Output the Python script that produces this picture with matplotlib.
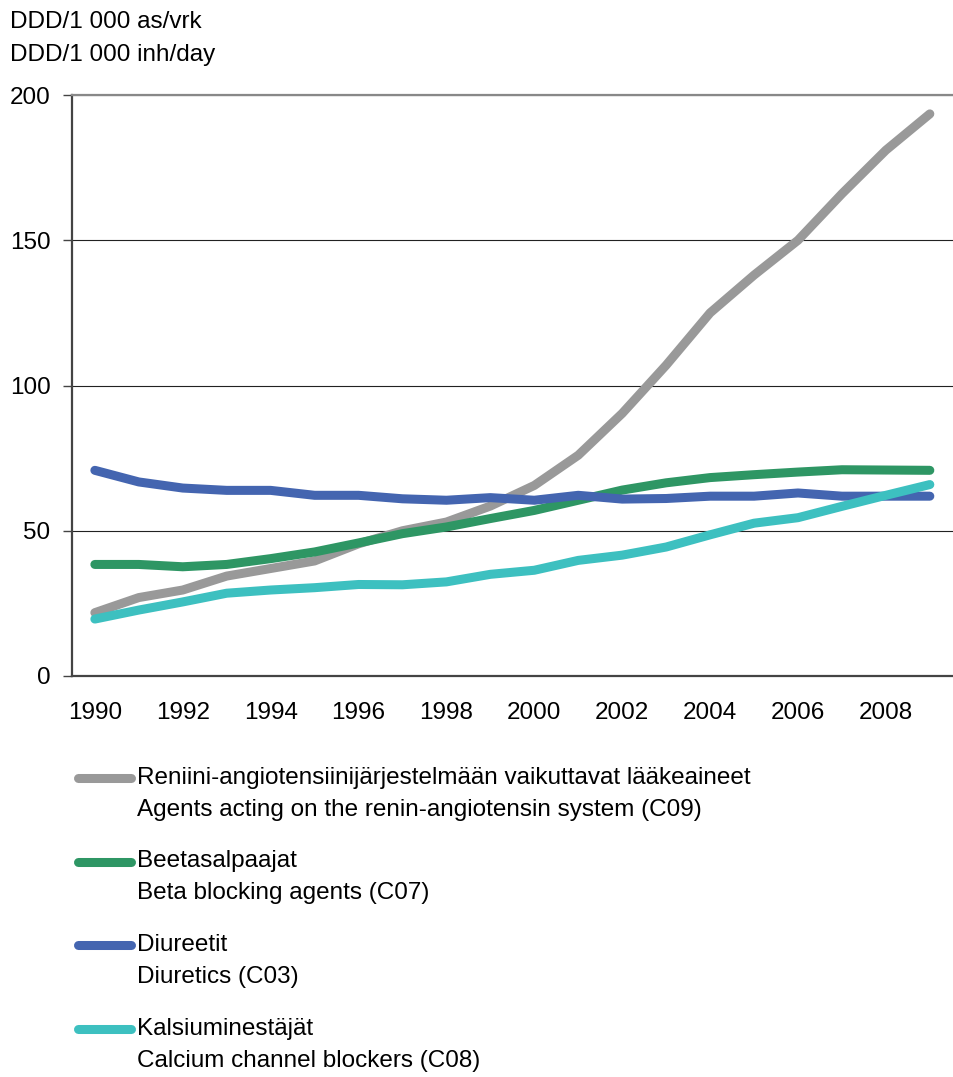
import matplotlib
matplotlib.use("Agg")
import matplotlib.pyplot as plt
from matplotlib.lines import Line2D

plt.rcParams["font.family"] = ["Liberation Sans", "DejaVu Sans"]

years = list(range(1990, 2010))

# DDD/1000 inh/day
c09_raas = [21.8, 27, 29.6, 34.4, 37, 39.6, 45.5, 50, 53, 58.5,
            65.6, 76, 90.4, 107, 125, 138, 150, 166, 181, 193.5]
c07_beta = [38.4, 38.4, 37.6, 38.4, 40.4, 42.7, 45.8, 49, 51.3, 54.2,
            57, 60.5, 64, 66.5, 68.3, 69.3, 70.2, 71, 70.9, 70.8]
c03_diur = [70.8, 66.8, 64.7, 63.9, 63.9, 62.2, 62.2, 61, 60.5, 61.4,
            60.5, 62.2, 60.9, 61.1, 61.9, 61.9, 63, 61.9, 61.9, 61.9]
c08_calc = [19.6, 22.7, 25.5, 28.5, 29.6, 30.4, 31.5, 31.4, 32.4, 35,
            36.4, 39.8, 41.6, 44.4, 48.6, 52.6, 54.5, 58.4, 62.2, 65.9]

series = [
    (c09_raas, "#999999", "Reniini-angiotensiinijärjestelmään vaikuttavat lääkeaineet",
     "Agents acting on the renin-angiotensin system (C09)"),
    (c07_beta, "#2E9664", "Beetasalpaajat", "Beta blocking agents (C07)"),
    (c03_diur, "#4465B0", "Diureetit", "Diuretics (C03)"),
    (c08_calc, "#3DC0C0", "Kalsiuminestäjät", "Calcium channel blockers (C08)"),
]

FS = 17.5
W, H = 954, 1077
fig = plt.figure(figsize=(W / 100, H / 100), dpi=100)
ax = fig.add_axes([72 / W, 1 - 676 / H, 1 - 72 / W, (676 - 95) / H])

for vals, color, fi, en in series:
    ax.plot(years, vals, color=color, lw=6.5, solid_capstyle="round",
            solid_joinstyle="round")

ax.set_xlim(1989.48, 2009.55)
ax.set_ylim(0, 200)
ax.set_yticks([0, 50, 100, 150, 200])
ax.set_xticks(range(1990, 2010, 2))
ax.yaxis.grid(True, color="#222222", lw=0.8)
ax.set_axisbelow(True)

ax.spines["right"].set_visible(False)
ax.spines["top"].set_color("#888888")
ax.spines["top"].set_linewidth(1.6)
ax.spines["left"].set_color("#444444")
ax.spines["left"].set_linewidth(1.6)
ax.spines["bottom"].set_color("#444444")
ax.spines["bottom"].set_linewidth(1.6)

ax.tick_params(axis="y", length=6.5, width=1, color="#444444", pad=9,
               labelsize=FS)
ax.tick_params(axis="x", length=0, pad=19, labelsize=FS)

# unit header
fig.text(10 / W, 1 - 22 / H, "DDD/1 000 as/vrk", fontsize=FS, va="center")
fig.text(10 / W, 1 - 55 / H, "DDD/1 000 inh/day", fontsize=FS, va="center")

# legend drawn by hand: handle next to the first line of each two-line label
y0 = 778
for i, (vals, color, fi, en) in enumerate(series):
    y = y0 + i * 83.5
    fig.add_artist(Line2D([78 / W, 131 / W], [1 - y / H, 1 - y / H],
                          color=color, lw=6.5, solid_capstyle="round"))
    fig.text(137 / W, 1 - y / H, fi, fontsize=FS, va="center")
    fig.text(137 / W, 1 - (y + 32) / H, en, fontsize=FS, va="center")

fig.savefig("out.png", dpi=100)
